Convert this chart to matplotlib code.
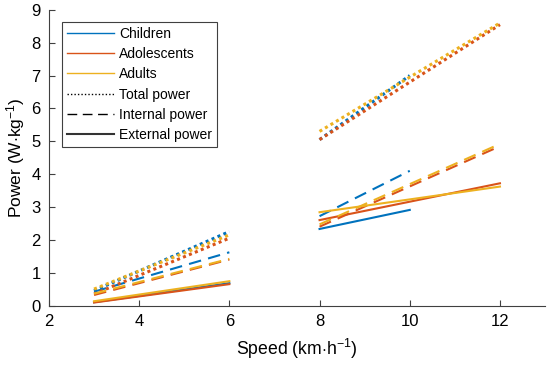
import numpy as np
import matplotlib.pyplot as plt
from matplotlib.lines import Line2D

plt.rcParams['font.family'] = ['Liberation Sans', 'DejaVu Sans']
plt.rcParams['mathtext.fontset'] = 'custom'
plt.rcParams['mathtext.rm'] = 'Liberation Sans'
plt.rcParams['mathtext.it'] = 'Liberation Sans:italic'

groups = ["Children", "Adolescents", "Adults"]
colors = ["#0072BD", "#D95319", "#EDB120"]

# speed ranges (walking / running segments)
walk_speed = [3, 6]
run_speed = {"Children": [8, 10], "Adolescents": [8, 12], "Adults": [8, 12]}

# power values (W/kg) at the ends of each segment
total_walk = {"Children": [0.45, 2.25], "Adolescents": [0.35, 2.05], "Adults": [0.5, 2.15]}
total_run = {"Children": [5.05, 7.0], "Adolescents": [5.05, 8.55], "Adults": [5.3, 8.6]}
internal_walk = {"Children": [0.42, 1.62], "Adolescents": [0.32, 1.4], "Adults": [0.36, 1.42]}
internal_run = {"Children": [2.72, 4.1], "Adolescents": [2.4, 4.85], "Adults": [2.47, 4.92]}
external_walk = {"Children": [0.1, 0.68], "Adolescents": [0.09, 0.65], "Adults": [0.13, 0.74]}
external_run = {"Children": [2.33, 2.91], "Adolescents": [2.6, 3.72], "Adults": [2.84, 3.62]}

dotted = (0, (1, 1.1))
dashed = (0, (6, 3.5))

fig = plt.figure(figsize=(5.5, 3.65), dpi=100)
ax = fig.add_axes([0.089, 0.163, 0.902, 0.81])

for g, c in zip(groups, colors):
    ax.plot(walk_speed, total_walk[g], color=c, linestyle=dotted, linewidth=2.2)
    ax.plot(walk_speed, internal_walk[g], color=c, linestyle=dashed, linewidth=1.5)
    ax.plot(walk_speed, external_walk[g], color=c, linestyle='-', linewidth=1.5)
    rs = run_speed[g]
    ax.plot(rs, total_run[g], color=c, linestyle=dotted, linewidth=2.2)
    ax.plot(rs, internal_run[g], color=c, linestyle=dashed, linewidth=1.5)
    ax.plot(rs, external_run[g], color=c, linestyle='-', linewidth=1.5)

ax.set_xlim(2, 13)
ax.set_ylim(0, 9)
ax.set_xticks([2, 4, 6, 8, 10, 12])
ax.set_yticks(range(10))
ax.spines['top'].set_visible(False)
ax.spines['right'].set_visible(False)
for s in ['left', 'bottom']:
    ax.spines[s].set_color('#404040')
    ax.spines[s].set_linewidth(0.8)
ax.tick_params(direction='in', length=4, width=0.8, color='#404040', labelsize=12, pad=6)
ax.set_xlabel('Speed (km$\\cdot$h$^{-1}$)', fontsize=12.7, labelpad=6)
ax.set_ylabel('Power (W$\\cdot$kg$^{-1}$)', fontsize=12.5, labelpad=3)

handles = [Line2D([], [], color=c, lw=1) for c in colors]
handles += [Line2D([], [], color='k', lw=1, linestyle=(0, (1, 1.5))),
            Line2D([], [], color='k', lw=1, linestyle=(0, (7, 4))),
            Line2D([], [], color='#333333', lw=1.5)]
labels = groups + ["Total power", "Internal power", "External power"]
leg = ax.legend(handles, labels, loc='upper left', bbox_to_anchor=(0.026, 0.959),
                borderaxespad=0, fontsize=10, handlelength=3.4, handletextpad=0.35,
                labelspacing=0.45, fancybox=False, framealpha=1, borderpad=0.35)
leg.get_frame().set_edgecolor('#404040')
leg.get_frame().set_linewidth(0.8)

fig.savefig('out.png', dpi=100)
